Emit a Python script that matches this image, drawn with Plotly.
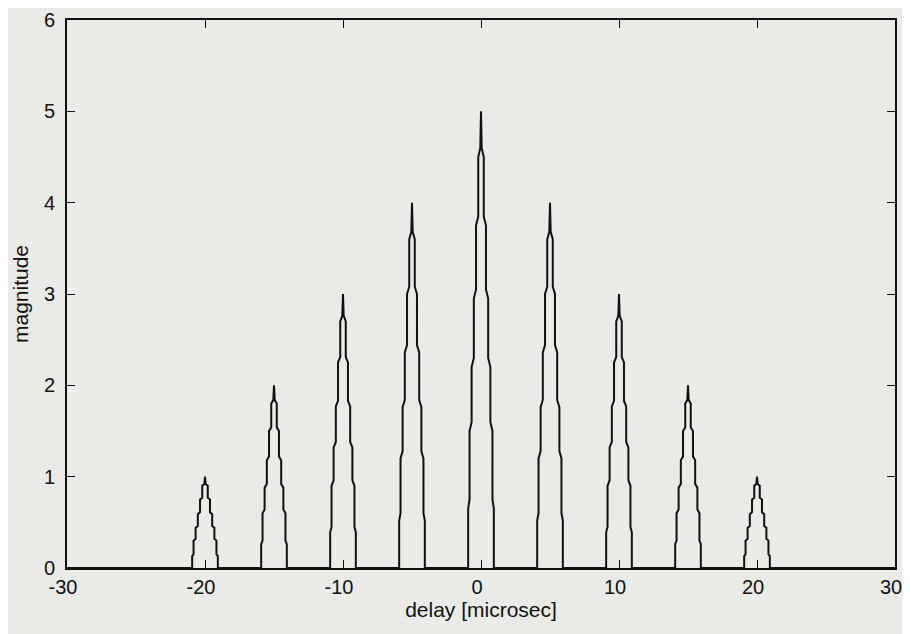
import plotly.graph_objects as go

# Peak centres (microsec) and peak heights
peak_centers = [-20, -15, -10, -5, 0, 5, 10, 15, 20]
peak_heights = [1, 2, 3, 4, 5, 4, 3, 2, 1]

# Normalised staircase outline of one peak (delay offset in microsec, relative magnitude)
shape_dt = [-0.93, -0.93, -0.83, -0.83, -0.68, -0.68, -0.52, -0.52, -0.36, -0.36,
            -0.20, -0.20, -0.05, 0.0,
            0.05, 0.20, 0.20, 0.36, 0.36, 0.52, 0.52, 0.68, 0.68, 0.83, 0.83, 0.93, 0.93]
shape_rel = [0.0, 0.13, 0.15, 0.30, 0.32, 0.44, 0.46, 0.59, 0.61, 0.75,
             0.77, 0.90, 0.92, 1.0,
             0.92, 0.90, 0.77, 0.75, 0.61, 0.59, 0.46, 0.44, 0.32, 0.30, 0.15, 0.13, 0.0]

x_range = [-30, 30]
x_ticks = [-30, -20, -10, 0, 10, 20, 30]
x_ticklabels = ["-30", "-20", "-10", "0", "10", "20", "30"]
y_ticks = [0, 1, 2, 3, 4, 5, 6]
y_ticklabels = ["0", "1", "2", "3", "4", "5", "6"]

xs, ys = [x_range[0]], [0]
for c, h in zip(peak_centers, peak_heights):
    for dt, r in zip(shape_dt, shape_rel):
        xs.append(c + dt)
        ys.append(h * r)
xs.append(x_range[1])
ys.append(0)

bg = "#eaeae7"
ink = "#111111"
tick_font = dict(family="Liberation Sans, Arial, sans-serif", size=20, color=ink)
title_font = dict(family="Liberation Sans, Arial, sans-serif", size=21, color=ink)

fig = go.Figure()
fig.add_trace(go.Scatter(x=xs, y=ys, mode="lines",
                         line=dict(color=ink, width=2), showlegend=False))

axis_common = dict(showgrid=False, zeroline=False, showline=True, linecolor=ink,
                   linewidth=2, mirror="ticks", ticks="inside", ticklen=8,
                   tickcolor=ink, tickfont=tick_font, automargin=False)

fig.update_xaxes(range=x_range, tickvals=x_ticks, ticktext=x_ticklabels,
                 ticklabelshift=-4,
                 title=dict(text="delay [microsec]", font=title_font, standoff=4),
                 **axis_common)
fig.update_yaxes(range=[0, 6], tickvals=y_ticks, ticktext=y_ticklabels,
                 ticklabelstandoff=6,
                 title=dict(text="magnitude", font=title_font, standoff=10),
                 **axis_common)

fig.update_layout(width=910, height=634, margin=dict(l=59, r=23, t=12, b=74),
                  paper_bgcolor=bg, plot_bgcolor=bg)
fig.write_html("out.html")
